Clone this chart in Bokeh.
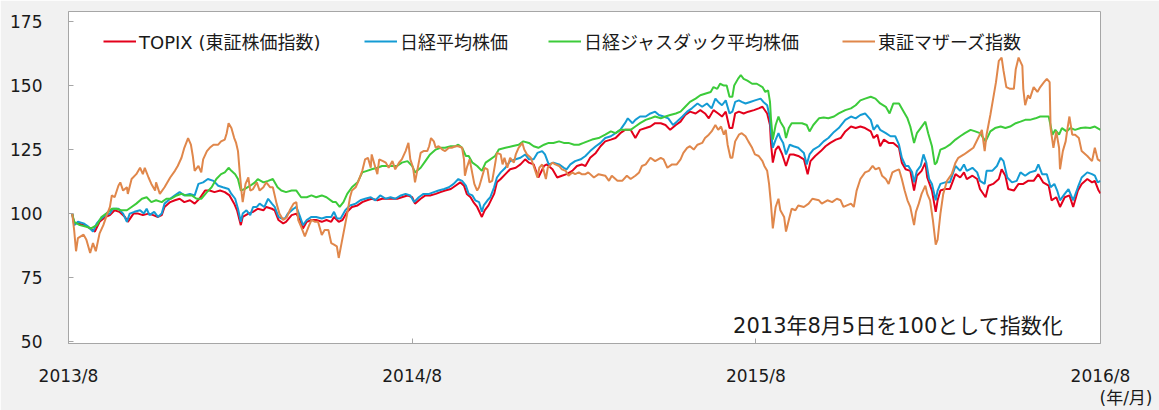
from bokeh.plotting import figure
from bokeh.models import Range1d, FixedTicker, Legend, LegendItem, Label, LinearAxis
from bokeh.embed import file_html
from bokeh.resources import INLINE

# ---- data (x = days since 2013-08-01, y = index, 2013-08-05 = 100) ----
tick_days = [0, 365, 730, 1096]
tick_labels = ["2013/8", "2014/8", "2015/8", "2016/8"]
y_ticks = [50, 75, 100, 125, 150, 175]

series_names = ["TOPIX (東証株価指数)", "日経平均株価", "日経ジャスダック平均株価", "東証マザーズ指数"]

topix = [(4,100),(6,96.3),(10,96.3),(17,95.6),(23,94.3),(28,93.1),(33,96.9),(39,98.8),(44,99.5),(49,101.4),
 (54,100.8),(60,98.8),(63,96.9),(69,100.1),(74,100.1),(79,99.5),(85,100.1),(90,99.5),(95,98.8),(99,99.5),
 (102,102.7),(108,104.6),(113,105.3),(118,105.9),(123,104.6),(129,105.3),(134,104),(139,105.9),(145,109.1),(150,109.1),
 (155,108.5),(161,109.1),(166,108.5),(171,107.2),(176,104),(179,101.4),(183,95.6),(185,98.8),(191,100.1),(196,100.8),
 (201,102),(207,101.4),(210,102.7),(216,102),(219,101.4),(223,97.6),(228,96.3),(231,96.9),(237,99.5),(242,100.1),
 (246,97.6),(249,94.3),(253,96.9),(258,97.6),(263,97.6),(269,96.9),(274,97.6),(279,96.9),(282,98.8),(287,96.9),
 (291,97.6),(296,100.8),(301,102.7),(307,103.3),(312,104.6),(317,105.3),(322,105.9),(328,105.3),(333,105.9),(338,105.9),
 (344,105.9),(349,105.9),(354,106.5),(360,107.2),(365,106.5),(368,104),(374,105.9),(379,107.2),(384,107.2),(390,107.8),
 (395,108.5),(400,109.1),(406,109.7),(411,111),(416,112.3),(420,111),(423,107.8),(427,106.5),(430,104.6),(434,102.7),
 (439,98.8),(442,101.4),(446,103.3),(452,107.8),(455,112.3),(459,113.6),(464,115.5),(469,117.4),(475,118),(480,119.3),
 (485,121.3),(489,120),(494,119.3),(499,114.2),(505,118.7),(508,119.3),(514,117.4),(519,114.2),(524,114.9),(529,115.5),
 (535,116.8),(540,118.7),(545,119.3),(549,118.7),(554,121.9),(560,123.8),(565,126.4),(570,128.3),(576,129),(581,129.6),
 (586,131.5),(591,132.8),(597,132.8),(602,129.6),(607,132.8),(613,133.5),(618,134.1),(623,135.4),(629,135.4),(634,134.7),
 (639,132.8),(645,134.7),(650,136),(655,138.6),(660,139.9),(666,139.2),(671,140.5),(676,139.2),(680,137.3),(685,140.5),
 (690,139.2),(694,138),(698,139.9),(702,133.5),(705,133.5),(708,139.2),(712,139.9),(717,139.2),(722,139.9),(728,140.5),
 (733,141.2),(737,141.8),(742,139.2),(745,134.7),(746,127.7),(748,120),(751,125.1),(754,126.4),(758,123.2),(762,118.7),
 (766,123.2),(770,123.2),(775,122.6),(781,121.3),(785,115.5),(788,120.6),(793,122.6),(799,124.5),(804,126.4),(809,127.7),
 (815,129),(820,129.6),(825,132.2),(831,134.1),(836,133.5),(841,134.1),(846,133.5),(852,132.2),(855,129.6),(859,130.9),
 (862,126.4),(866,129),(871,127.7),(876,127.7),(882,125.8),(885,120),(889,117.4),(894,116.8),(898,109.1),(901,114.9),
 (906,116.8),(910,120),(912,114.2),(917,109.1),(921,100.8),(923,105.3),(926,109.1),(931,109.7),(936,109.7),(942,115.5),
 (947,114.2),(951,116.2),(954,113.6),(960,114.9),(965,113.6),(968,109.7),(974,106.5),(977,111),(982,111.7),(988,113.6),
 (991,117.4),(995,114.9),(998,109.7),(1004,109.1),(1009,111.7),(1014,111.7),(1019,112.9),(1025,112.9),(1030,115.5),(1035,112.3),
 (1041,111),(1044,105.3),(1049,106.5),(1053,102.7),(1058,106.5),(1063,107.2),(1067,102.7),(1072,109.1),(1076,111.7),(1082,113.6),
 (1087,112.3),(1090,112.9),(1094,109.1),(1096,108)]

nikkei = [(4,100),(6,95.6),(10,96.9),(16,96.3),(21,95),(26,93.1),(30,96.3),(33,97.6),(39,99.5),(44,100.1),
 (47,102),(53,102),(58,100.1),(62,96.9),(65,100.1),(70,100.8),(76,101.4),(80,100.1),(83,102),(86,99.5),
 (91,100.8),(95,98.8),(99,100.1),(102,104),(108,105.9),(113,107.2),(118,108.5),(123,107.2),(129,107.8),(134,107.2),
 (138,111.7),(143,112.3),(148,113.6),(154,112.9),(159,111),(164,110.4),(170,109.7),(173,107.8),(177,105.9),(180,102),
 (183,96.9),(185,100.1),(189,101.4),(193,99.5),(196,102.7),(200,102.7),(203,104),(208,102.7),(212,105.9),(216,104),
 (219,102.7),(223,98.8),(226,98.2),(230,98.2),(233,100.1),(239,102),(242,102.7),(246,98.8),(249,95.6),(253,97.6),
 (258,98.8),(263,98.8),(269,98.2),(274,98.8),(279,98.8),(282,100.8),(285,98.2),(289,98.2),(294,101.4),(299,103.3),
 (305,104),(310,105.3),(315,105.9),(321,106.5),(326,105.3),(331,107.2),(337,105.9),(342,106.5),(347,105.9),(353,107.2),
 (358,107.8),(363,107.2),(367,104.6),(372,106.5),(377,107.8),(383,107.8),(388,108.5),(393,109.1),(399,109.7),(404,110.4),
 (409,111.7),(414,113.6),(418,112.9),(422,111),(425,107.8),(429,107.2),(432,105.3),(436,104.6),(439,100.8),(441,103.3),
 (445,105.3),(448,106.5),(452,110.4),(455,114.2),(459,116.2),(464,118),(469,120.6),(475,121.3),(480,121.9),(485,123.2),
 (489,121.3),(494,121.3),(498,123.8),(503,124.5),(506,123.2),(510,119.3),(515,120),(521,119.3),(526,118),(529,117.4),
 (533,119.3),(538,120.6),(544,121.3),(549,122.6),(554,124.5),(560,126.4),(565,127.7),(570,129.6),(576,130.3),(581,131.5),
 (586,132.8),(591,135.4),(594,137.3),(599,135.4),(602,136.7),(607,138),(613,138),(618,139.2),(623,139.9),(627,138.6),
 (632,138),(637,137.3),(642,134.7),(646,136),(652,138),(657,139.9),(662,141.2),(668,143.1),(673,141.8),(678,143.1),
 (683,141.2),(687,145),(690,143.7),(694,142.4),(698,144.3),(702,139.2),(705,139.9),(708,143.7),(712,144.3),(715,143.7),
 (719,143.1),(724,143.7),(729,144.3),(735,145),(738,143.7),(742,142.4),(745,137.3),(746,132.2),(748,125.8),(751,129),
 (754,131.5),(756,129.6),(759,127.7),(762,123.2),(766,127),(770,126.4),(775,125.8),(781,123.8),(784,119.3),(787,123.2),
 (791,125.1),(797,126.4),(802,128.3),(807,129.6),(813,132),(818,133.5),(825,136.7),(831,138),(836,137.3),(841,138.6),
 (846,139.2),(852,136.7),(855,132.8),(859,134.7),(862,132.8),(868,131.5),(873,130.3),(878,130.3),(882,127),(885,121.9),
 (889,118.7),(892,118.7),(896,116.2),(898,112.3),(901,116.8),(905,118.7),(908,123.2),(911,120),(914,113.6),(917,111.7),
 (921,105.3),(923,109.1),(926,111.7),(931,112.3),(936,112.3),(942,118.7),(947,116.8),(951,119.3),(954,116.8),(960,118),
 (965,116.2),(968,112.9),(973,111.7),(975,116.8),(981,116.8),(986,118.7),(990,121.9),(993,120.6),(997,114.2),(1002,112.3),
 (1007,112.9),(1011,116.2),(1016,114.9),(1021,116.2),(1027,116.8),(1030,119.3),(1034,115.5),(1039,115.5),(1043,110.4),(1047,111.7),
 (1050,109.1),(1053,105.3),(1058,107.8),(1062,109.7),(1067,105.3),(1072,110.4),(1076,114.2),(1082,116.2),(1087,115.5),(1090,114.9),
 (1093,112.3),(1096,112.9)]

jasdaq = [(4,100),(6,96.9),(12,95.6),(19,95),(24,94.3),(30,95.6),(35,98.8),(40,100.1),(46,102),(51,102),
 (56,101.4),(62,101.4),(67,102.7),(72,104),(78,105.9),(83,106.5),(88,104.6),(93,105.3),(99,104.6),(104,105.9),
 (109,105.9),(115,107.2),(120,107.8),(125,107.2),(131,107.2),(136,105.9),(141,105.9),(147,108.5),(152,110.4),(157,113.6),
 (162,115.5),(166,116.2),(170,118),(173,116.8),(177,115.5),(180,113.6),(183,109.1),(187,109.7),(193,111),(198,112.3),
 (201,113.6),(207,112.3),(212,112.9),(217,113.6),(222,110.4),(226,109.1),(231,108.5),(237,109.1),(242,109.1),(247,106.5),
 (253,106.5),(258,107.2),(263,106.5),(269,107.2),(274,106.5),(281,104.6),(284,104.6),(288,102.7),(292,104.6),(296,107.8),
 (301,110.4),(307,112.3),(312,116.2),(317,116.8),(322,117.4),(328,118),(333,118.7),(338,118.7),(344,118.7),(349,118.7),
 (354,120),(360,120.6),(365,118.7),(368,116.2),(374,118),(379,120.6),(384,123.2),(390,125.1),(395,125.8),(400,125.8),
 (406,126.4),(411,126.4),(414,127),(418,125.8),(422,122.6),(425,122.6),(429,120),(434,118.7),(439,116.8),(443,120),
 (448,121.3),(453,122.6),(457,125.1),(464,125.8),(471,126.4),(478,127),(483,128.3),(489,127.7),(494,126.4),(499,125.8),
 (505,127),(510,127.7),(515,127.7),(521,128.3),(526,127.7),(531,127.7),(537,127),(542,127),(547,127.7),(556,129),
 (563,129.6),(570,130.9),(576,132.2),(581,131.5),(586,132.8),(591,132.8),(597,132.8),(602,134.1),(607,135.4),(613,136.7),
 (618,137.3),(623,138),(629,137.3),(634,138),(639,138.6),(645,139.2),(650,139.9),(655,141.8),(660,143.7),(666,145),
 (671,146.3),(676,146.9),(682,147.6),(685,149.5),(689,148.8),(692,150.8),(696,150.1),(699,150.1),(702,145.7),(705,145.7),
 (707,150.1),(711,152.7),(714,154.2),(717,152.7),(721,152),(726,150.8),(731,150.8),(737,149.5),(740,147.6),(743,148.2),
 (745,143.7),(746,137.3),(748,129),(751,134.7),(754,138),(756,136),(760,133.5),(762,129.6),(765,133.5),(768,135.4),
 (774,135.4),(779,135.4),(784,134.7),(787,132.2),(791,134.7),(797,137.3),(802,137.6),(807,137.3),(813,138),(818,139.2),
 (825,140.5),(831,141.2),(836,142.4),(841,144.3),(846,145),(852,145.7),(857,145),(862,143.1),(868,141.8),(872,139.2),
 (876,143.1),(882,143.1),(887,139.9),(891,137.3),(894,134.1),(898,127.7),(901,131.5),(905,133.5),(910,136),(913,131.5),
 (917,126.4),(920,119.3),(922,120),(926,125.1),(931,125.8),(936,127),(942,129),(947,130.3),(952,131.5),(958,132.8),
 (963,132.2),(968,131.5),(974,128.3),(979,132.2),(984,133.5),(990,134.1),(995,133.5),(1000,134.1),(1006,135.4),(1011,136),
 (1016,136.7),(1021,136.7),(1027,137.3),(1032,138),(1037,138),(1041,138),(1045,130.9),(1048,132.8),(1052,130.9),(1055,133.5),
 (1060,132.2),(1064,133.5),(1069,132.8),(1075,133.5),(1080,133.7),(1085,133.5),(1090,134.1),(1096,132.8)]

mothers = [(4,100),(6,93.7),(8,85.4),(10,90.5),(16,91.9),(19,89.9),(23,84.7),(26,88.6),(29,85.4),(33,92.4),
 (37,95.6),(40,98.8),(44,102.7),(46,107.2),(49,106.5),(53,111),(55,112.3),(58,109.1),(62,110.4),(63,107.8),
 (67,113.6),(72,115.5),(76,118),(79,115.5),(81,118),(85,114.2),(88,111.7),(92,109.1),(93,112.3),(97,107.8),
 (102,110.4),(108,114.2),(113,116.8),(116,118.7),(120,121.9),(123,125.8),(127,129.6),(130,127),(132,122.6),(134,116.8),
 (138,118.7),(141,116.2),(143,121.3),(147,124.5),(150,125.8),(154,127),(159,127),(162,128.3),(166,129),(168,131.5),
 (170,135.4),(173,133.5),(176,129.6),(178,127.7),(180,124.5),(182,115.5),(184,107.8),(185,104.6),(188,111.7),(191,114.2),
 (193,109.1),(196,109.7),(200,112.3),(203,109.1),(207,110.4),(210,112.3),(214,110.4),(217,110.4),(221,104),(224,100.1),
 (228,97.6),(232,98.8),(235,101.4),(239,104),(242,104.6),(244,97.6),(247,95),(251,91.2),(255,95),(258,97.6),
 (262,96.9),(265,96.9),(269,91.8),(272,93.7),(276,93.7),(279,88.6),(282,88),(285,87.3),(287,82.8),(290,88.6),
 (292,92.4),(296,100.1),(299,106.5),(301,109.1),(305,110.4),(308,112.9),(312,116.8),(315,121.3),(318,121.9),(321,118),
 (322,123.2),(325,119.3),(328,115.5),(330,121.3),(334,120.6),(337,120),(340,118),(344,120.6),(347,117.4),(351,120),
 (354,121.3),(358,124.5),(361,127.7),(363,121.3),(366,118),(368,112.3),(370,116.2),(374,123.8),(377,124.5),(381,124.5),
 (383,126.4),(385,129.6),(388,128.3),(390,125.8),(393,126.4),(397,125.1),(400,124.5),(404,125.8),(407,125.8),(411,126.4),
 (414,126.4),(418,125.8),(420,121.3),(421,114.9),(423,118),(426,121.3),(429,115.5),(431,111.7),(434,109.1),(436,110.4),
 (439,114.2),(442,118),(445,117.4),(447,112.3),(450,112.9),(453,119.3),(455,123.8),(459,123.2),(461,119.3),(463,121.9),
 (466,118),(469,121.9),(473,120),(475,123.2),(478,125.8),(482,127.7),(484,125.1),(487,123.2),(491,121.9),(494,118.7),
 (498,114.2),(500,118),(503,119.3),(507,113.6),(509,118),(514,120),(517,119.3),(521,118.7),(524,117.4),(528,116.8),
 (531,114.9),(535,116.2),(538,115.5),(542,116.2),(545,115.5),(549,115.5),(552,116.2),(558,114.2),(563,115.5),(570,114.9),
 (574,112.9),(577,114.9),(583,112.9),(588,112.9),(593,114.9),(597,113.6),(602,114.9),(606,116.2),(609,118.7),(613,119.3),
 (618,121.9),(623,120.6),(629,121.9),(632,121.3),(636,118),(641,119.3),(646,119.3),(650,121.3),(653,123.8),(657,125.8),
 (660,126.4),(664,125.1),(668,127),(673,127.7),(676,129.6),(680,130.9),(683,132.2),(687,134.7),(690,132.8),(693,134.1),
 (696,130.9),(698,132.8),(700,127),(703,121.9),(705,121.9),(708,128.3),(712,130.9),(715,131.5),(719,130.3),(722,128.3),
 (726,125.8),(729,123.2),(733,122.6),(737,120.6),(739,118.7),(742,116.8),(744,111.7),(746,104),(748,94.3),(751,102.7),
 (754,105.9),(756,101.4),(760,98.8),(762,93.1),(765,97.6),(768,102),(772,101.4),(775,103.3),(781,102.7),(786,104),
 (790,105.9),(797,105.3),(800,104),(806,105.3),(811,104.6),(816,105.9),(820,105.3),(823,102.7),(831,104),(834,102.7),
 (837,109.1),(841,113.6),(846,116.2),(850,116.8),(854,118.7),(857,117.4),(861,118),(864,114.9),(868,113.6),(871,111.7),
 (875,116.2),(878,116.8),(882,117.4),(885,113.6),(888,109.1),(891,105.3),(894,102.7),(898,95.6),(900,100.8),(903,104),
 (906,107.8),(910,111),(912,107.8),(915,105.3),(918,97.6),(921,88),(923,89.9),(926,100.1),(929,107.8),(933,112.9),
 (938,115.5),(942,120),(945,121.9),(951,123.2),(956,124.5),(961,125.8),(967,130.3),(970,132.8),(973,124.5),(975,130.9),
 (979,138.6),(982,145),(985,151.4),(988,159.7),(991,161),(993,155.9),(996,149.5),(1000,148.8),(1004,148.8),(1006,156.5),
 (1009,161),(1013,157.8),(1014,148.8),(1016,142.4),(1019,146.3),(1021,145),(1025,149.5),(1029,147.6),(1032,149.5),(1036,151.4),
 (1039,152.7),(1042,151.4),(1043,133.5),(1046,125.8),(1049,132.2),(1052,125.8),(1053,117.4),(1056,124.5),(1059,128.3),(1061,133.5),
 (1063,138),(1066,130.9),(1069,130.9),(1073,129.6),(1076,124.5),(1082,122.6),(1087,120.6),(1090,125.8),(1093,121.3),(1096,120.6)]

series_data = [topix, nikkei, jasdaq, mothers]
series_colors = ["#e3001b", "#149bd4", "#3ccb3a", "#e0874b"]
legend_x = [35, 296, 480, 774]   # legend item offsets in px from frame left

note_text = "2013年8月5日を100として指数化"
unit_text = "\u3000\u3000\u3000(年/月)"

FONT = "DejaVu Sans, Noto Sans CJK JP"
TXT = "#1a1a1a"
GRAY = "#a6a6a6"

p = figure(width=1159, height=410, output_backend="svg", toolbar_location=None,
           x_range=Range1d(0, 1096), y_range=Range1d(49.4, 179),
           min_border_left=68, min_border_right=59, min_border_top=11, min_border_bottom=62,
           background_fill_color="white", border_fill_color="#f1f1f1",
           outline_line_color=GRAY, outline_line_width=1)
p.xgrid.visible = False
p.ygrid.visible = False

p.xaxis.ticker = FixedTicker(ticks=tick_days)
p.xaxis.major_label_overrides = {d: t for d, t in zip(tick_days, tick_labels)}
p.yaxis.ticker = FixedTicker(ticks=y_ticks)
for ax in (p.xaxis[0], p.yaxis[0]):
    ax.major_tick_in = 5
    ax.major_tick_out = 0
    ax.minor_tick_line_color = None
    ax.major_tick_line_color = GRAY
    ax.axis_line_color = GRAY
    ax.major_label_text_font = FONT
    ax.major_label_text_font_size = "17px"
    ax.major_label_text_color = TXT
p.yaxis.major_label_standoff = 26
p.xaxis.major_label_standoff = 22

# second bottom axis only carrying the unit note "(年/月)"
unit_axis = LinearAxis(ticker=FixedTicker(ticks=[tick_days[-1]]),
                       major_label_overrides={tick_days[-1]: unit_text},
                       axis_line_color=None, major_tick_line_color=None, minor_tick_line_color=None,
                       major_tick_in=0, major_tick_out=0, major_label_standoff=-1,
                       major_label_text_font=FONT, major_label_text_font_size="17px",
                       major_label_text_color=TXT)
p.add_layout(unit_axis, "below")

renderers = []
for pts, col in zip(series_data, series_colors):
    xs = [d for d, v in pts]
    ys = [v for d, v in pts]
    renderers.append(p.line(xs, ys, line_color=col, line_width=2))

for r, name, lx in zip(renderers, series_names, legend_x):
    leg = Legend(items=[LegendItem(label=name, renderers=[r])], location=(lx, 289),
                 orientation="horizontal", padding=0, margin=0, spacing=0,
                 border_line_color=None, background_fill_alpha=0,
                 glyph_width=33, glyph_height=20, label_height=20, label_standoff=3,
                 label_text_font=FONT, label_text_font_size="18px", label_text_color=TXT)
    p.add_layout(leg)

p.add_layout(Label(x=1056.5, y=56.2, text=note_text, text_align="right", text_baseline="middle",
                   text_font=FONT, text_font_size="21px", text_color=TXT))

open("out.html", "w").write(file_html(p, INLINE))
